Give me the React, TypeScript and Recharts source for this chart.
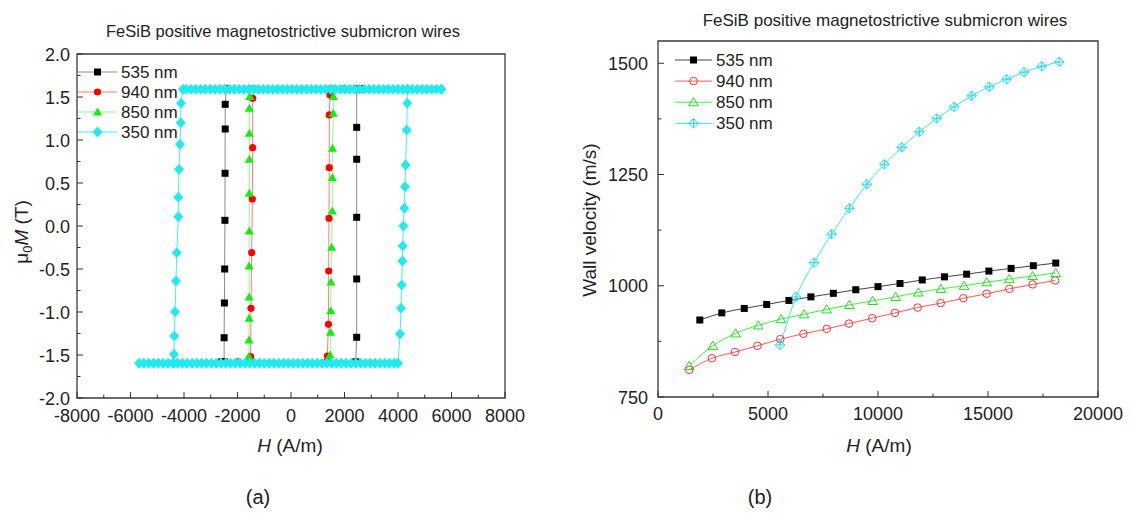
import React from 'react';
import { LineChart, Line, XAxis, YAxis, ReferenceArea } from 'recharts';

const FONT = '"Liberation Sans", Arial, Helvetica, sans-serif';
const INK = '#222';

// ---------- (a) hysteresis loops, mu0 M (T) vs H (A/m) ----------
const loopXMajor = [-8000, -6000, -4000, -2000, 0, 2000, 4000, 6000, 8000];
const loopXMinor = [-7000, -5000, -3000, -1000, 1000, 3000, 5000, 7000];
const loopYMajor = [-2, -1.5, -1, -0.5, 0, 0.5, 1, 1.5, 2];
const loopYMinor = [-1.75, -1.25, -0.75, -0.25, 0.25, 0.75, 1.25, 1.75];

// 535 nm (plateaus sit under the 350 nm band, only their ends show)
const top535 = [2600, -2420];
const left535H = [-2460, -2460, -2465, -2470, -2480, -2490, -2500];
const left535M = [1.415, 1.128, 0.613, 0.066, -0.5, -0.895, -1.299];
const bottom535 = [-2600, 2420];
const right535H = [2455, 2455, 2455, 2455, 2455];
const right535M = [-1.294, -0.616, 0.101, 0.776, 1.147];

// 940 nm
const top940 = [2000, -1400];
const left940H = [-1432, -1432, -1445, -1470, -1495, -1510];
const left940M = [1.485, 0.911, 0.314, -0.31, -0.957, -1.52];
const bottom940 = [-2000, 1340];
const right940H = [1360, 1400, 1410, 1420, 1430, 1432, 1460];
const right940M = [-1.512, -1.143, -0.523, 0.09, 0.678, 1.291, 1.523];

// 850 nm
const top850 = [2000, -1520];
const left850H = [-1545, -1555, -1555, -1555, -1560, -1560, -1565, -1565, -1565, -1570, -1575];
const left850M = [1.504, 1.369, 1.078, 0.776, 0.38, -0.058, -0.465, -0.826, -1.073, -1.326, -1.52];
const bottom850 = [-2000, 1440];
const right850H = [1460, 1480, 1485, 1495, 1520, 1545, 1545, 1550, 1580, 1585];
const right850M = [-1.5, -1.236, -0.988, -0.651, -0.248, 0.174, 0.562, 0.903, 1.31, 1.504];

// 350 nm
const top350 = [
  5620, 5440, 5260, 5080, 4900, 4720, 4540, 4360, 4180, 4000, 3820, 3640, 3460, 3280,
  3100, 2920, 2740, 2560, 2380, 2200, 2020, 1840, 1660, 1480, 1300, 1120, 940, 760,
  580, 400, 220, 40, -140, -320, -500, -680, -860, -1040, -1220, -1400, -1580, -1760,
  -1940, -2120, -2300, -2480, -2660, -2840, -3020, -3200, -3380, -3560, -3740, -3920, -4040,
];
const left350H = [-4112, -4124, -4150, -4187, -4212, -4212, -4272, -4299, -4336, -4361, -4374];
const left350M = [1.427, 1.201, 0.95, 0.659, 0.333, 0.108, -0.31, -0.64, -0.997, -1.279, -1.492];
const bottom350 = [
  -5680, -5500, -5320, -5140, -4960, -4780, -4600, -4420, -4240, -4060, -3880, -3700,
  -3520, -3340, -3160, -2980, -2800, -2620, -2440, -2260, -2080, -1900, -1720, -1540,
  -1360, -1180, -1000, -820, -640, -460, -280, -100, 80, 260, 440, 620, 800, 980, 1160,
  1340, 1520, 1700, 1880, 2060, 2240, 2420, 2600, 2780, 2960, 3140, 3320, 3500, 3680,
  3860, 4000,
];
const right350H = [4075, 4112, 4137, 4162, 4174, 4199, 4236, 4261, 4286, 4324, 4348];
const right350M = [-1.256, -0.957, -0.686, -0.407, -0.233, 0, 0.206, 0.457, 0.709, 1.116, 1.427];

const satTop = 1.595;
const satBottom = -1.58;
const satTop350 = 1.59;
const satBottom350 = -1.595;

// ---------- (b) wall velocity (m/s) vs H (A/m) ----------
const velXMajor = [0, 5000, 10000, 15000, 20000];
const velXMinor = [2500, 7500, 12500, 17500];
const velYMajor = [750, 1000, 1250, 1500];
const velYMinor = [875, 1125, 1375];

const h535 = [1900, 2900, 3920, 4940, 5950, 6950, 7970, 8990, 10000, 11000, 12010, 13020, 14030, 15040, 16050, 17060, 18080];
const v535 = [923, 939, 949, 958, 967, 975, 983, 991, 998, 1005, 1013, 1020, 1026, 1033, 1039, 1045, 1051];
const h940 = [1420, 2450, 3500, 4520, 5560, 6610, 7670, 8680, 9740, 10770, 11800, 12850, 13880, 14940, 15970, 17030, 18050];
const v940 = [811, 837, 851, 865, 880, 892, 903, 915, 927, 939, 951, 961, 972, 982, 993, 1003, 1012];
const h850 = [1420, 2490, 3530, 4560, 5590, 6640, 7670, 8700, 9760, 10800, 11830, 12860, 13910, 14940, 15970, 17030, 18080];
const v850 = [820, 865, 893, 911, 925, 936, 947, 957, 966, 975, 985, 993, 1000, 1008, 1015, 1022, 1029];
const h350 = [5550, 6280, 7090, 7890, 8700, 9490, 10290, 11080, 11880, 12670, 13460, 14260, 15060, 15850, 16640, 17440, 18240];
const v350 = [867, 975, 1052, 1116, 1174, 1228, 1273, 1311, 1346, 1376, 1402, 1427, 1447, 1464, 1480, 1493, 1503];

type Pt = { h: number; m: number };

// walks the loop: top branch down to -Hc, drop, bottom branch up to +Hc, rise
const buildLoop = (
  top: number[], leftH: number[], leftM: number[],
  bottom: number[], rightH: number[], rightM: number[],
  mTop: number, mBottom: number,
): Pt[] => [
  ...top.map((h) => ({ h, m: mTop })),
  ...leftH.map((h, i) => ({ h, m: leftM[i] })),
  { h: leftH[leftH.length - 1], m: mBottom },
  ...bottom.map((h) => ({ h, m: mBottom })),
  ...rightH.map((h, i) => ({ h, m: rightM[i] })),
  { h: rightH[rightH.length - 1], m: mTop },
  { h: top[0], m: mTop },
];

const zip = (hs: number[], vs: number[]): Pt[] => hs.map((h, i) => ({ h, m: vs[i] }));

const loop535 = buildLoop(top535, left535H, left535M, bottom535, right535H, right535M, satTop, satBottom);
const loop940 = buildLoop(top940, left940H, left940M, bottom940, right940H, right940M, satTop, satBottom);
const loop850 = buildLoop(top850, left850H, left850M, bottom850, right850H, right850M, satTop, satBottom);
const loop350 = buildLoop(top350, left350H, left350M, bottom350, right350H, right350M, satTop350, satBottom350);

const loopSeries = [
  { name: '535 nm', data: loop535, line: '#8a8a8a', color: '#000', shape: 'square' },
  { name: '940 nm', data: loop940, line: '#ff7a7a', color: '#ff0000', shape: 'circle' },
  { name: '850 nm', data: loop850, line: '#8cff8c', color: '#11ee11', shape: 'triangle' },
  { name: '350 nm', data: loop350, line: '#40f0f0', color: '#22eaee', shape: 'diamond' },
];

const velSeries = [
  { name: '535 nm', data: zip(h535, v535), line: '#444', color: '#000', shape: 'square' },
  { name: '940 nm', data: zip(h940, v940), line: '#ff5a5a', color: '#ff3030', shape: 'circleOpen' },
  { name: '850 nm', data: zip(h850, v850), line: '#44ee44', color: '#22dd22', shape: 'triangleOpen' },
  { name: '350 nm', data: zip(h350, v350), line: '#33e6f0', color: '#22dcee', shape: 'diamondCross' },
];

const marker = (shape: string, cx: number, cy: number, color: string, key?: string) => {
  if (cx == null || cy == null || isNaN(cx) || isNaN(cy)) return <g key={key} />;
  switch (shape) {
    case 'square':
      return <rect key={key} x={cx - 3.5} y={cy - 3.5} width={7} height={7} fill={color} />;
    case 'circle':
      return <circle key={key} cx={cx} cy={cy} r={3.6} fill={color} />;
    case 'triangle':
      return <path key={key} d={`M${cx},${cy - 4.6}L${cx + 4.6},${cy + 3.4}L${cx - 4.6},${cy + 3.4}Z`} fill={color} />;
    case 'diamond':
      return <path key={key} d={`M${cx},${cy - 5.5}L${cx + 5},${cy}L${cx},${cy + 5.5}L${cx - 5},${cy}Z`} fill={color} />;
    case 'circleOpen':
      return <circle key={key} cx={cx} cy={cy} r={3.8} fill="none" stroke={color} strokeWidth={1} />;
    case 'triangleOpen':
      return <path key={key} d={`M${cx},${cy - 4.6}L${cx + 4.8},${cy + 3.6}L${cx - 4.8},${cy + 3.6}Z`} fill="none" stroke={color} strokeWidth={1} />;
    default:
      return (
        <g key={key}>
          <path d={`M${cx},${cy - 4.8}L${cx + 4.8},${cy}L${cx},${cy + 4.8}L${cx - 4.8},${cy}Z`} fill="none" stroke={color} strokeWidth={1} />
          <path d={`M${cx - 4.8},${cy}H${cx + 4.8}M${cx},${cy - 4.8}V${cy + 4.8}`} stroke={color} strokeWidth={1} />
        </g>
      );
  }
};

const dotFn = (shape: string, color: string) => (p: any) => marker(shape, p.cx, p.cy, color, `d${p.index}`);

const xTick = (majors: number[], fmt: (v: number) => string, dy: number) => (p: any) => {
  const v = p.payload.value;
  const major = majors.includes(v);
  return (
    <g>
      <line x1={p.x} y1={p.y} x2={p.x} y2={p.y - (major ? 6 : 3.5)} stroke="#333" strokeWidth={1} />
      {major && (
        <text x={p.x} y={p.y + dy} textAnchor="middle" fontSize={18} fontFamily={FONT} fill={INK}>
          {fmt(v)}
        </text>
      )}
    </g>
  );
};

const yTick = (majors: number[], fmt: (v: number) => string, gap: number) => (p: any) => {
  const v = p.payload.value;
  const major = majors.includes(v);
  return (
    <g>
      <line x1={p.x} y1={p.y} x2={p.x + (major ? 6 : 3.5)} y2={p.y} stroke="#333" strokeWidth={1} />
      {major && (
        <text x={p.x - gap} y={p.y + 6.5} textAnchor="end" fontSize={18} fontFamily={FONT} fill={INK}>
          {fmt(v)}
        </text>
      )}
    </g>
  );
};

const LegendBox = ({ series, left, top, rowGap, lineLen }: any) => (
  <svg style={{ position: 'absolute', left, top }} width={120} height={rowGap * 4 + 10}>
    {series.map((s: any, i: number) => {
      const y = 8 + i * rowGap;
      return (
        <g key={s.name}>
          <line x1={0} y1={y} x2={lineLen} y2={y} stroke={s.line} strokeWidth={1} />
          {marker(s.shape, lineLen / 2, y, s.color)}
          <text x={lineLen + 4} y={y + 6} fontSize={17} fontFamily={FONT} fill={INK}>{s.name}</text>
        </g>
      );
    })}
  </svg>
);

const Txt = ({ x, y, size, children, rotate }: any) => (
  <div
    style={{
      position: 'absolute', left: x, top: y, fontSize: size, color: INK, whiteSpace: 'nowrap',
      transform: `translate(-50%, -50%)${rotate ? ' rotate(-90deg)' : ''}`, lineHeight: 1,
    }}
  >
    {children}
  </div>
);

const App: React.FC = () => (
  <div style={{ position: 'absolute', left: 0, top: 0, width: 1132, height: 515, background: '#fff', fontFamily: FONT, overflow: 'hidden' }}>
    <div style={{ position: 'absolute', left: 0, top: 0 }}>
      <LineChart width={560} height={470} margin={{ top: 54, right: 55, bottom: 32, left: 17 }}>
        <XAxis
          dataKey="h" type="number" domain={[-8000, 8000]} allowDataOverflow
          ticks={[...loopXMajor, ...loopXMinor]} interval={0} tickSize={0} tickMargin={0}
          axisLine={false} tickLine={false} height={40}
          tick={xTick(loopXMajor, (v) => String(v), 23.5)}
        />
        <YAxis
          type="number" domain={[-2, 2]} allowDataOverflow width={60}
          ticks={[...loopYMajor, ...loopYMinor]} interval={0} tickSize={0} tickMargin={0}
          axisLine={false} tickLine={false}
          tick={yTick(loopYMajor, (v) => v.toFixed(1), 7)}
        />
        <ReferenceArea x1={-8000} x2={8000} y1={-2} y2={2} fill="none" stroke="#3a3a3a" strokeWidth={1.3} />
        {loopSeries.map((s) => (
          <Line
            key={s.name} data={s.data} dataKey="m" type="linear" stroke={s.line} strokeWidth={1}
            dot={dotFn(s.shape, s.color)} activeDot={false} isAnimationActive={false}
          />
        ))}
      </LineChart>
    </div>
    <LegendBox series={loopSeries} left={78} top={64} rowGap={20} lineLen={39} />

    <div style={{ position: 'absolute', left: 560, top: 0 }}>
      <LineChart width={572} height={470} margin={{ top: 41, right: 34, bottom: 33, left: 18 }}>
        <XAxis
          dataKey="h" type="number" domain={[0, 20000]} allowDataOverflow
          ticks={[...velXMajor, ...velXMinor]} interval={0} tickSize={0} tickMargin={0}
          axisLine={false} tickLine={false} height={40}
          tick={xTick(velXMajor, (v) => String(v), 22.5)}
        />
        <YAxis
          type="number" domain={[750, 1550]} allowDataOverflow width={80}
          ticks={[...velYMajor, ...velYMinor]} interval={0} tickSize={0} tickMargin={0}
          axisLine={false} tickLine={false}
          tick={yTick(velYMajor, (v) => String(v), 10)}
        />
        <ReferenceArea x1={0} x2={20000} y1={750} y2={1550} fill="none" stroke="#3a3a3a" strokeWidth={1.3} />
        {velSeries.map((s) => (
          <Line
            key={s.name} data={s.data} dataKey="m" type="monotone" stroke={s.line} strokeWidth={1}
            dot={dotFn(s.shape, s.color)} activeDot={false} isAnimationActive={false}
          />
        ))}
      </LineChart>
    </div>
    <LegendBox series={velSeries} left={675} top={52} rowGap={21.1} lineLen={37} />

    <Txt x={283} y={31} size={16.5}>FeSiB positive magnetostrictive submicron wires</Txt>
    <Txt x={885} y={20} size={17}>FeSiB positive magnetostrictive submicron wires</Txt>
    <Txt x={290} y={445} size={19}><i>H</i> (A/m)</Txt>
    <Txt x={879} y={445} size={19}><i>H</i> (A/m)</Txt>
    <Txt x={23} y={232} size={19} rotate>
      μ<sub style={{ fontSize: 13 }}>0</sub><i>M</i> (T)
    </Txt>
    <Txt x={589} y={220} size={19} rotate>Wall velocity (m/s)</Txt>
    <Txt x={258} y={497} size={20}>(a)</Txt>
    <Txt x={760} y={497} size={20}>(b)</Txt>
  </div>
);

export default App;
